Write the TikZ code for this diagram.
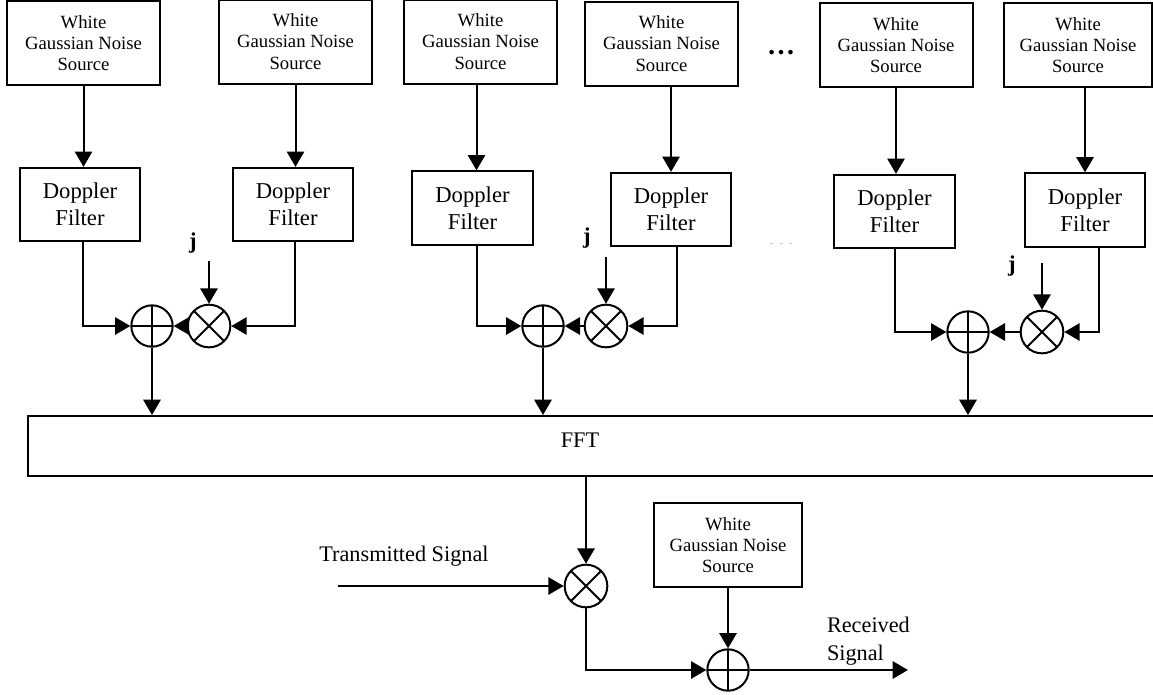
\documentclass[tikz,border=0pt]{standalone}
\usepackage{fontspec}
\setmainfont{Liberation Serif}
\usetikzlibrary{arrows.meta,calc}

\begin{document}
\begin{tikzpicture}[x=0.75pt,y=-0.75pt,
  line width=1.5pt,
  wgn/.style={draw, rectangle, inner sep=0pt, minimum width=114.75pt,
    minimum height=63pt, align=center, font=\fontsize{14}{16}\selectfont},
  dop/.style={draw, rectangle, inner sep=0pt, minimum width=90.5pt,
    minimum height=55pt, align=center, font=\fontsize{17}{20}\selectfont},
  adder/.style={draw, circle, inner sep=0pt, minimum size=31pt,
    path picture={\draw (path picture bounding box.north) -- (path picture bounding box.south)
      (path picture bounding box.west) -- (path picture bounding box.east);}},
  mixer/.style={draw, circle, inner sep=0pt, minimum size=32pt,
    path picture={\draw (path picture bounding box.north west) -- (path picture bounding box.south east)
      (path picture bounding box.north east) -- (path picture bounding box.south west);}},
  arr/.style={-{Triangle[length=11.5pt,width=13pt]}},
  jlab/.style={font=\fontsize{17}{20}\selectfont\bfseries},
  lbl/.style={font=\fontsize{16.7}{21}\selectfont},
]
\useasboundingbox (0,0) rectangle (1153,694);
\clip (0,0) rectangle (1153,694);

% noise sources
\node[wgn] (w1) at (83.5,43)   {White\\Gaussian Noise\\Source};
\node[wgn] (w2) at (295.5,41.5) {White\\Gaussian Noise\\Source};
\node[wgn] (w3) at (480.5,41.5) {White\\Gaussian Noise\\Source};
\node[wgn] (w4) at (661.5,43.5) {White\\Gaussian Noise\\Source};
\node[wgn] (w5) at (896,45)    {White\\Gaussian Noise\\Source};
\node[wgn, minimum width=111pt] (w6) at (1078,45) {White\\Gaussian Noise\\Source};

% Doppler filters
\node[dop] (d1) at (80,204.5)   {Doppler\\Filter};
\node[dop] (d2) at (293,204.5)  {Doppler\\Filter};
\node[dop] (d3) at (472.5,208)  {Doppler\\Filter};
\node[dop] (d4) at (671,209.5)  {Doppler\\Filter};
\node[dop] (d5) at (894.5,211.5){Doppler\\Filter};
\node[dop] (d6) at (1085,210)   {Doppler\\Filter};

% source -> filter
\draw[arr] (w1.south) -- (w1.south |- d1.north);
\draw[arr] (w2.south) -- (w2.south |- d2.north);
\draw[arr] ($(w3.south)!0.5!(w3.south -| d3.north)$) -- ($(d3.north)!0.5!(d3.north -| w3.south)$);
\draw[arr] (w4.south -| d4.north) -- (d4.north);
\draw[arr] (w5.south) -- (w5.south |- d5.north);
\draw[arr] (w6.south -| d6.north) -- (d6.north);

% adders and mixers
\node[adder] (a1) at (152,326) {};
\node[mixer] (m1) at (209,326) {};
\node[adder] (a2) at (543,326) {};
\node[mixer] (m2) at (606,326) {};
\node[adder] (a3) at (968,332) {};
\node[mixer] (m3) at (1042,332) {};

% filter outputs
\draw[arr] ([xshift=2.25pt]d1.south) |- (a1.west);
\draw[arr] ([xshift=1.5pt]d2.south) |- (m1.east);
\draw[arr] ([xshift=3.4pt]d3.south) |- (a2.west);
\draw[arr] ([xshift=4.5pt]d4.south) |- (m2.east);
\draw[arr] (d5.south) |- (a3.west);
\draw[arr] ([xshift=10.5pt]d6.south) |- (m3.east);

\draw[arr] (m1.west) -- (a1.east);
\draw[arr] (m2.west) -- (a2.east);
\draw[arr] (m3.west) -- (a3.east);

% imaginary unit inputs
\node[jlab] (j1) at (193,243) {j};
\node[jlab] (j2) at (587,238) {j};
\node[jlab] (j3) at (1012,266) {j};
\coordinate (js1) at (209,261);
\coordinate (js2) at (606,257);
\coordinate (js3) at (1042,263);
\draw[arr] (js1) -- (m1.north);
\draw[arr] (js2) -- (m2.north);
\draw[arr] (js3) -- (m3.north);

% FFT block
\node[draw, rectangle, inner sep=0pt, minimum width=856.5pt, minimum height=45pt] (fft) at (599,446) {};
\node[lbl] (fftl) at (580,440) {FFT};
\draw[arr] (a1.south) -- (a1.south |- fft.north);
\draw[arr] (a2.south) -- (a2.south |- fft.north);
\draw[arr] (a3.south) -- (a3.south |- fft.north);

% ellipses between branches
\node[font=\fontsize{21}{24}\selectfont\bfseries, inner sep=0pt] (dots) at (781,53) {…};
\draw[gray!45, line width=0.6pt] (770,243) -- +(3,0) (779.5,243) -- +(3,0) (789,243) -- +(3,0);

% channel output stage
\node[adder] (ab) at (728,670) {};
\node[mixer] (mb) at (586,586) {};
\draw[arr] (fft.south -| mb.north) -- (mb.north);
\node[lbl] (ts) at (404,556) {Transmitted Signal};
\coordinate (tsin) at (338,586);
\draw[arr] (tsin) -- (mb.west);
\node[wgn, minimum width=111pt] (w7) at (728,545) {White\\Gaussian Noise\\Source};
\draw[arr] (w7.south) -- (ab.north);
\draw[arr] (mb.south) |- (ab.west);
\coordinate (out) at (908,670);
\draw[arr] (ab.east) -- (out);
\node[lbl, align=left, anchor=west, inner sep=0pt] (rs) at (826,641) {Received\\Signal};
\end{tikzpicture}
\end{document}
